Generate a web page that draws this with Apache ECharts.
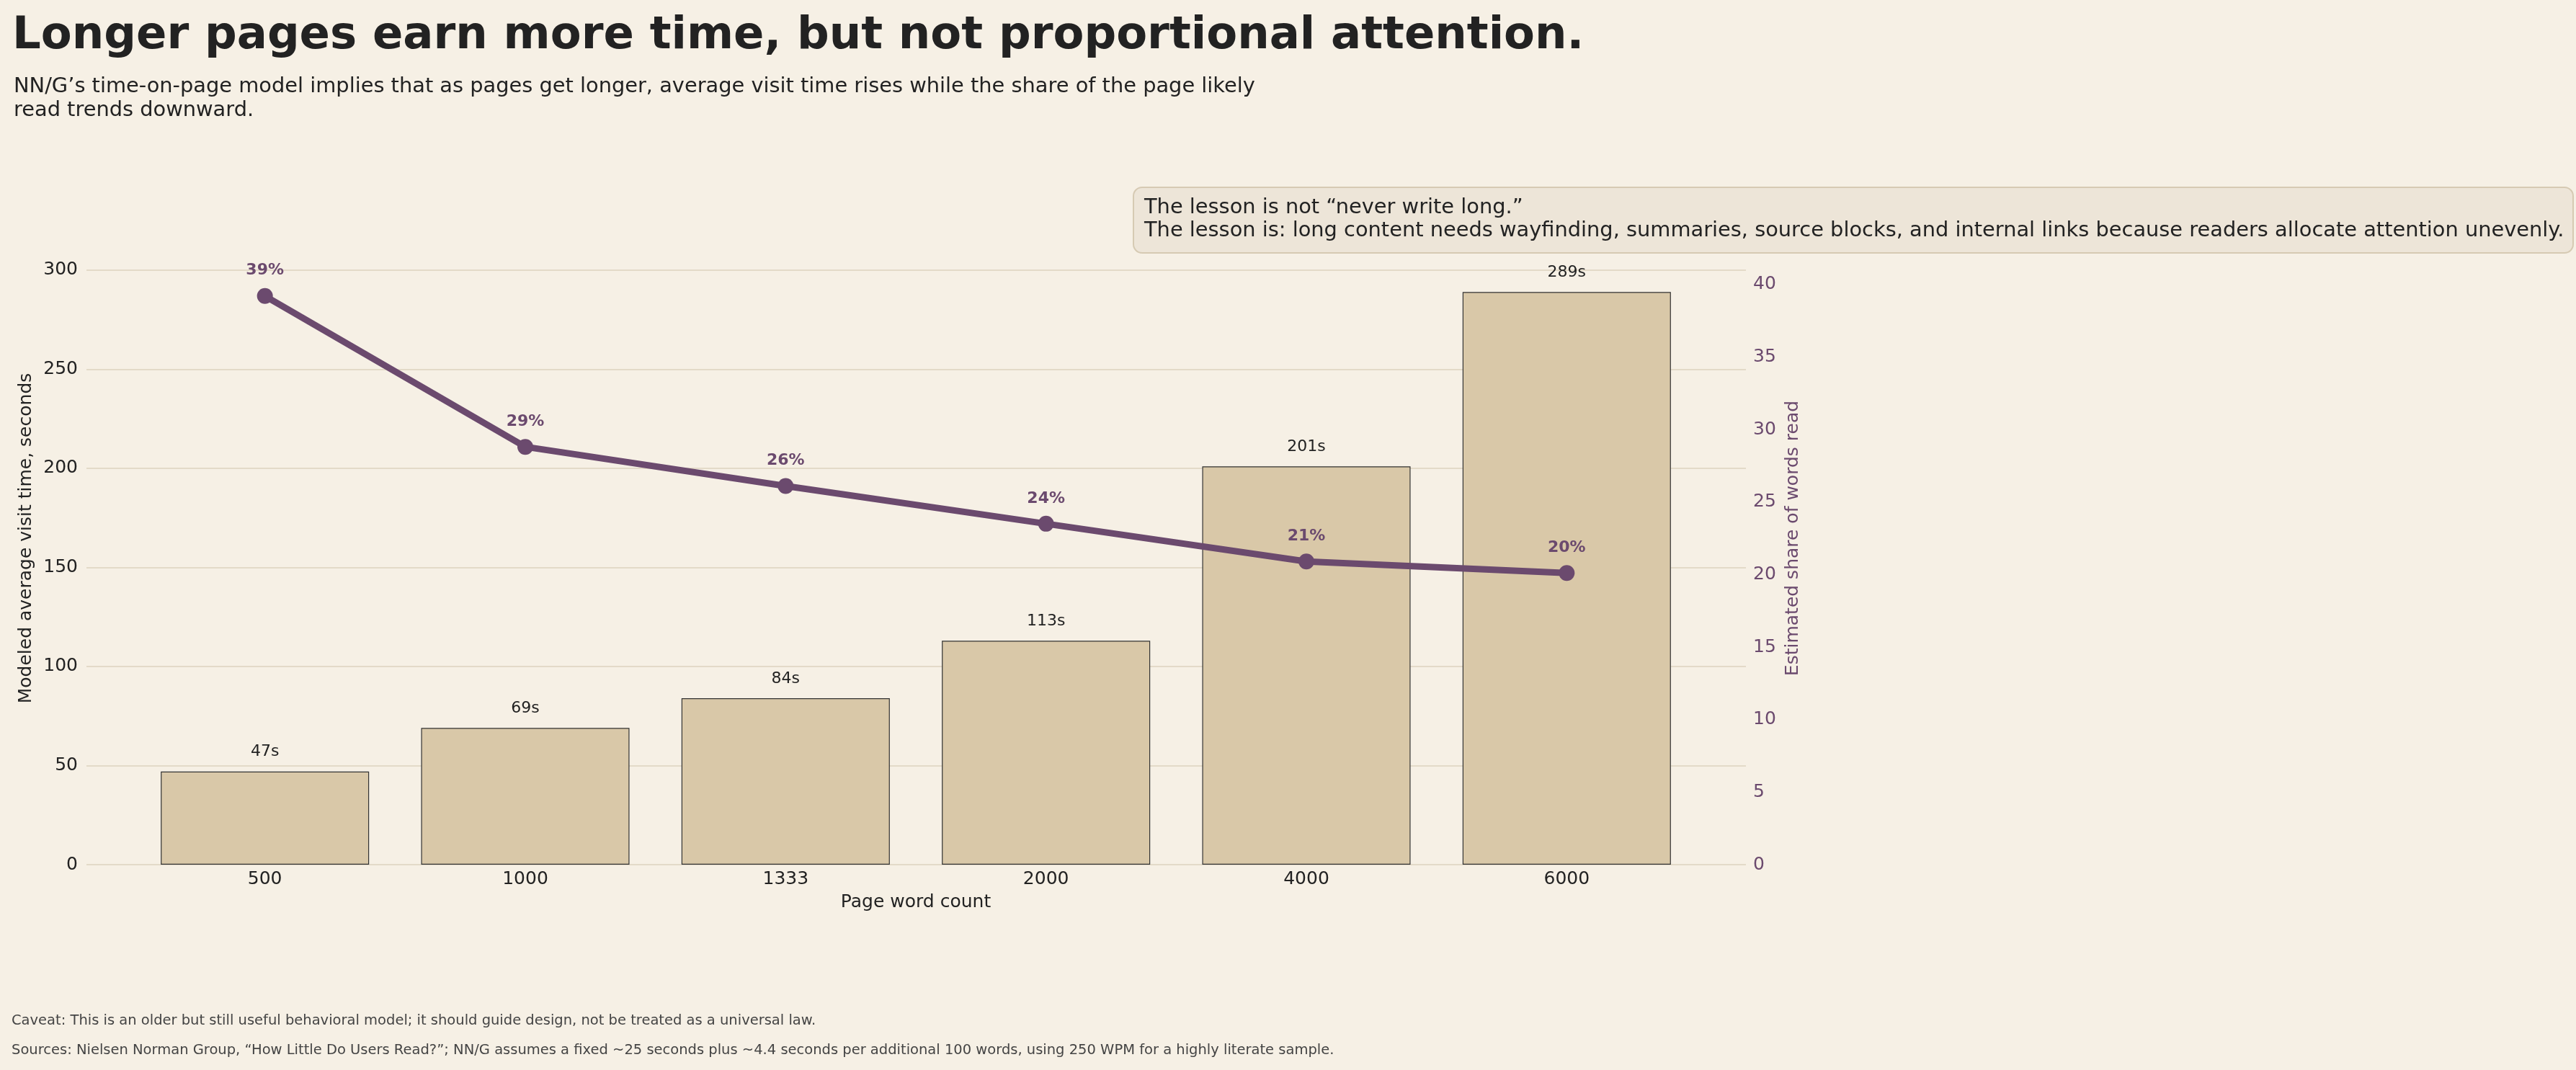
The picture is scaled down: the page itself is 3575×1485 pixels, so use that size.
<!DOCTYPE html>
<html>
<head>
<meta charset="utf-8">
<script src="https://cdn.jsdelivr.net/npm/echarts@6/dist/echarts.min.js"></script>
<style>
  html, body { margin: 0; padding: 0; background: #f6f0e5; }
  #main { width: 3575px; height: 1485px; }
</style>
</head>
<body>
<div id="main"></div>
<script>
var myChart = echarts.init(document.getElementById('main'));

// data
var wordCounts = ['500', '1000', '1333', '2000', '4000', '6000'];
var visitSeconds = [47, 69, 84, 113, 201, 289];
var shareRead = [39.2, 28.8, 26.1, 23.5, 20.9, 20.1];

var ink = '#222222';
var plum = '#6b4a6e';
var font = 'DejaVu Sans';

var option = {
  backgroundColor: '#f6f0e5',
  textStyle: { fontFamily: font },
  title: [
    {
      text: 'Longer pages earn more time, but not proportional attention.',
      left: 12, top: 14,
      textStyle: { fontSize: 62.5, fontWeight: 'bold', color: ink, fontFamily: font }
    },
    {
      text: 'NN/G\u2019s time-on-page model implies that as pages get longer, average visit time rises while the share of the page likely\nread trends downward.',
      left: 14, top: 99,
      textStyle: { fontSize: 28.85, lineHeight: 33, color: ink, fontWeight: 'normal', fontFamily: font }
    },
    {
      text: 'The lesson is not \u201cnever write long.\u201d\nThe lesson is: long content needs wayfinding, summaries, source blocks, and internal links because readers allocate attention unevenly.',
      left: 1573, top: 260,
      padding: [12, 13, 15, 15],
      backgroundColor: '#ede5d8',
      borderColor: '#d6cab3',
      borderWidth: 2,
      borderRadius: 12,
      textStyle: { fontSize: 28.85, lineHeight: 32, color: ink, fontWeight: 'normal', fontFamily: font }
    },
    {
      text: 'Caveat: This is an older but still useful behavioral model; it should guide design, not be treated as a universal law.',
      left: 16, top: 1407,
      padding: 0,
      textStyle: { fontSize: 19.5, color: '#444', fontWeight: 'normal', fontFamily: font }
    },
    {
      text: 'Sources: Nielsen Norman Group, \u201cHow Little Do Users Read?\u201d; NN/G assumes a fixed ~25 seconds plus ~4.4 seconds per additional 100 words, using 250 WPM for a highly literate sample.',
      left: 16, top: 1448,
      padding: 0,
      textStyle: { fontSize: 19.5, color: '#444', fontWeight: 'normal', fontFamily: font }
    }
  ],
  grid: [
    { left: 187, top: 294, width: 2168, height: 906 },
    { left: 120, top: 294, width: 2303, height: 906 }
  ],
  xAxis: [
    {
      type: 'category',
      gridIndex: 0,
      data: wordCounts,
      axisLine: { show: false },
      axisTick: { show: false },
      axisLabel: { fontSize: 25, color: ink, margin: 8, fontFamily: font },
      name: 'Page word count',
      nameLocation: 'middle',
      nameGap: 40,
      nameTextStyle: { fontSize: 25, color: ink, fontFamily: font }
    },
    { type: 'value', gridIndex: 1, min: 0, max: 1, show: false }
  ],
  yAxis: [
    { type: 'value', gridIndex: 0, min: 0, max: 329.45, show: false },
    { type: 'value', gridIndex: 0, min: 0, max: 45, show: false },
    {
      type: 'value',
      gridIndex: 1,
      position: 'left',
      min: 0, max: 329.45, interval: 50,
      axisLine: { show: false },
      axisTick: { show: false },
      axisLabel: { fontSize: 25, color: ink, margin: 12, showMaxLabel: false, fontFamily: font },
      splitLine: { show: true, showMaxLine: false, lineStyle: { color: '#e3dac8', width: 2 } },
      name: 'Modeled average visit time, seconds',
      nameLocation: 'middle',
      nameGap: 66,
      nameTextStyle: { fontSize: 25, color: ink, fontFamily: font }
    },
    {
      type: 'value',
      gridIndex: 1,
      position: 'right',
      min: 0, max: 45, interval: 5,
      axisLine: { show: false },
      axisTick: { show: false },
      axisLabel: { fontSize: 25, color: plum, margin: 10, showMaxLabel: false, fontFamily: font },
      splitLine: { show: false },
      name: 'Estimated share of words read',
      nameLocation: 'middle',
      nameRotate: 90,
      nameGap: 50,
      nameTextStyle: { fontSize: 25, color: plum, fontFamily: font }
    }
  ],
  series: [
    {
      name: 'Visit time',
      type: 'bar',
      xAxisIndex: 0,
      yAxisIndex: 0,
      data: visitSeconds,
      barWidth: '80%',
      itemStyle: { color: '#d9c8a8', borderColor: '#333', borderWidth: 1.2 },
      label: {
        show: true,
        position: 'top',
        distance: 16,
        formatter: '{c}s',
        fontSize: 22,
        color: ink,
        fontFamily: font
      },
      z: 2
    },
    {
      name: 'Share read',
      type: 'line',
      xAxisIndex: 0,
      yAxisIndex: 1,
      data: shareRead,
      symbol: 'circle',
      symbolSize: 22,
      lineStyle: { color: plum, width: 9 },
      itemStyle: { color: plum },
      label: {
        show: true,
        position: 'top',
        distance: 13,
        formatter: function (p) { return Math.round(p.value) + '%'; },
        fontSize: 22,
        fontWeight: 'bold',
        color: plum,
        fontFamily: font
      },
      z: 5
    }
  ]
};

myChart.setOption(option);
</script>
</body>
</html>
